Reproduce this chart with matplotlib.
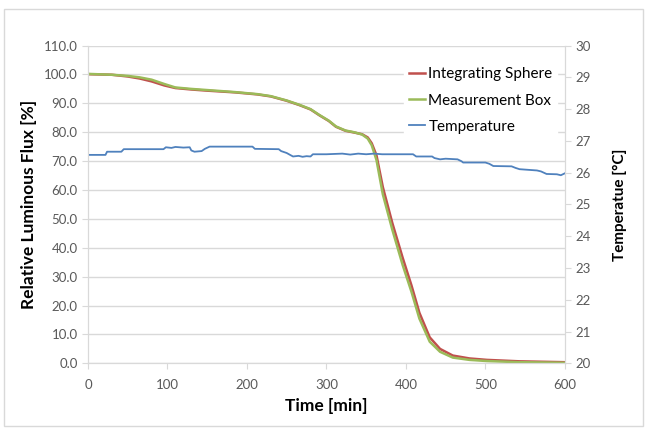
import matplotlib
matplotlib.use("Agg")
import matplotlib.pyplot as plt
from matplotlib.patches import Rectangle

# flux curves (relative luminous flux, %)
flux_time = [0, 30, 50, 65, 80, 96, 110, 130, 150, 185, 213, 230, 250, 266, 280,
             291, 303, 312, 324, 335, 345, 352, 357, 363, 371, 383, 396, 407, 417,
             430, 443, 459, 480, 502, 543, 600]
sphere = [100.1, 99.9, 99.3, 98.6, 97.6, 96.2, 95.3, 94.8, 94.4, 93.8, 93.1, 92.4,
          90.9, 89.4, 87.9, 85.9, 83.9, 81.9, 80.5, 79.9, 79.3, 78.2, 76.2, 72.0,
          61.0, 48.5, 36.5, 27.0, 17.5, 9.0, 5.0, 2.7, 1.7, 1.2, 0.7, 0.4]
box = [100.2, 99.9, 99.5, 99.0, 98.2, 96.7, 95.5, 95.0, 94.6, 93.9, 93.2, 92.5,
       91.0, 89.5, 88.0, 86.0, 84.0, 82.0, 80.6, 80.0, 79.2, 77.8, 75.5, 70.4,
       58.5, 46.2, 34.0, 24.8, 15.5, 7.5, 4.0, 2.0, 1.2, 0.8, 0.4, 0.2]

# temperature (deg C)
temp_time = [0, 5, 22, 24, 42, 45, 95, 98, 105, 110, 120, 128, 130, 134, 143, 147,
             153, 180, 207, 210, 240, 243, 250, 255, 258, 265, 270, 275, 280, 283,
             300, 320, 330, 340, 350, 360, 370, 390, 409, 413, 433, 436, 443, 450,
             465, 470, 472, 500, 505, 510, 533, 538, 543, 565, 570, 577, 590, 595, 600]
temperature = [26.56, 26.56, 26.56, 26.66, 26.66, 26.74, 26.74, 26.80, 26.78, 26.81,
               26.79, 26.80, 26.70, 26.66, 26.68, 26.75, 26.82, 26.82, 26.82, 26.75,
               26.74, 26.68, 26.62, 26.55, 26.51, 26.53, 26.50, 26.52, 26.51, 26.58,
               26.58, 26.60, 26.57, 26.60, 26.58, 26.60, 26.58, 26.58, 26.58, 26.51,
               26.51, 26.46, 26.42, 26.44, 26.42, 26.36, 26.32, 26.32, 26.28, 26.21,
               26.20, 26.15, 26.11, 26.07, 26.04, 25.96, 25.95, 25.92, 25.98]

flux_ticks = [0, 10, 20, 30, 40, 50, 60, 70, 80, 90, 100, 110]
temp_ticks = list(range(20, 31))
time_ticks = [0, 100, 200, 300, 400, 500, 600]

plt.rcParams["font.family"] = ["Lato", "DejaVu Sans"]

fig = plt.figure(figsize=(6.47, 4.30), dpi=100)
fig.patches.append(Rectangle((4 / 647, 4 / 430), 639 / 647, 417 / 430,
                             transform=fig.transFigure, fill=False,
                             edgecolor="#d9d9d9", linewidth=1.0))

ax = fig.add_axes([0.136, 0.155, 0.737, 0.739])
ax2 = ax.twinx()

ax.plot(flux_time, sphere, color="#c0504d", linewidth=1.8, label="Integrating Sphere")
ax.plot(flux_time, box, color="#9bbb59", linewidth=1.8, label="Measurement Box")
ax2.plot(temp_time, temperature, color="#4f81bd", linewidth=1.3, label="Temperature")

ax.set_xlim(0, 600)
ax.set_ylim(0, 110)
ax2.set_ylim(20, 30)
ax.set_xticks(time_ticks)
ax.set_yticks(flux_ticks)
ax.set_yticklabels([f"{v:.1f}" for v in flux_ticks])
ax2.set_yticks(temp_ticks)

ax.grid(axis="y", color="#d9d9d9", linewidth=1.0)
ax.set_axisbelow(True)

for a in (ax, ax2):
    a.spines["top"].set_visible(False)
    for s in ("left", "right", "bottom"):
        a.spines[s].set_color("#d9d9d9")
    a.tick_params(colors="#595959", labelsize=9.5, length=4, width=0.8)
    for t in a.get_yticklabels() + a.get_xticklabels():
        t.set_color("#595959")
ax.tick_params(axis="both", color="#d9d9d9")
ax.tick_params(axis="x", pad=7)
ax2.tick_params(axis="y", color="#d9d9d9")

ax.set_xlabel("Time [min]", fontsize=12.5, fontweight="bold", labelpad=5)
ax.set_ylabel("Relative Luminous Flux [%]", fontsize=12.5, fontweight="bold", labelpad=5)
ax2.set_ylabel("Temperatue [°C]", fontsize=11, fontweight="bold", labelpad=16)

h1, l1 = ax.get_legend_handles_labels()
h2, l2 = ax2.get_legend_handles_labels()
leg = ax2.legend(h1 + h2, l1 + l2, loc="upper right", bbox_to_anchor=(1.0, 0.97),
                 frameon=True, fontsize=11, handlelength=1.1, handletextpad=0.2,
                 labelspacing=0.8, borderpad=0.3, fancybox=False)
leg.get_frame().set_edgecolor("white")
leg.get_frame().set_facecolor("white")
leg.get_frame().set_alpha(1.0)

fig.savefig("out.png", dpi=100)
